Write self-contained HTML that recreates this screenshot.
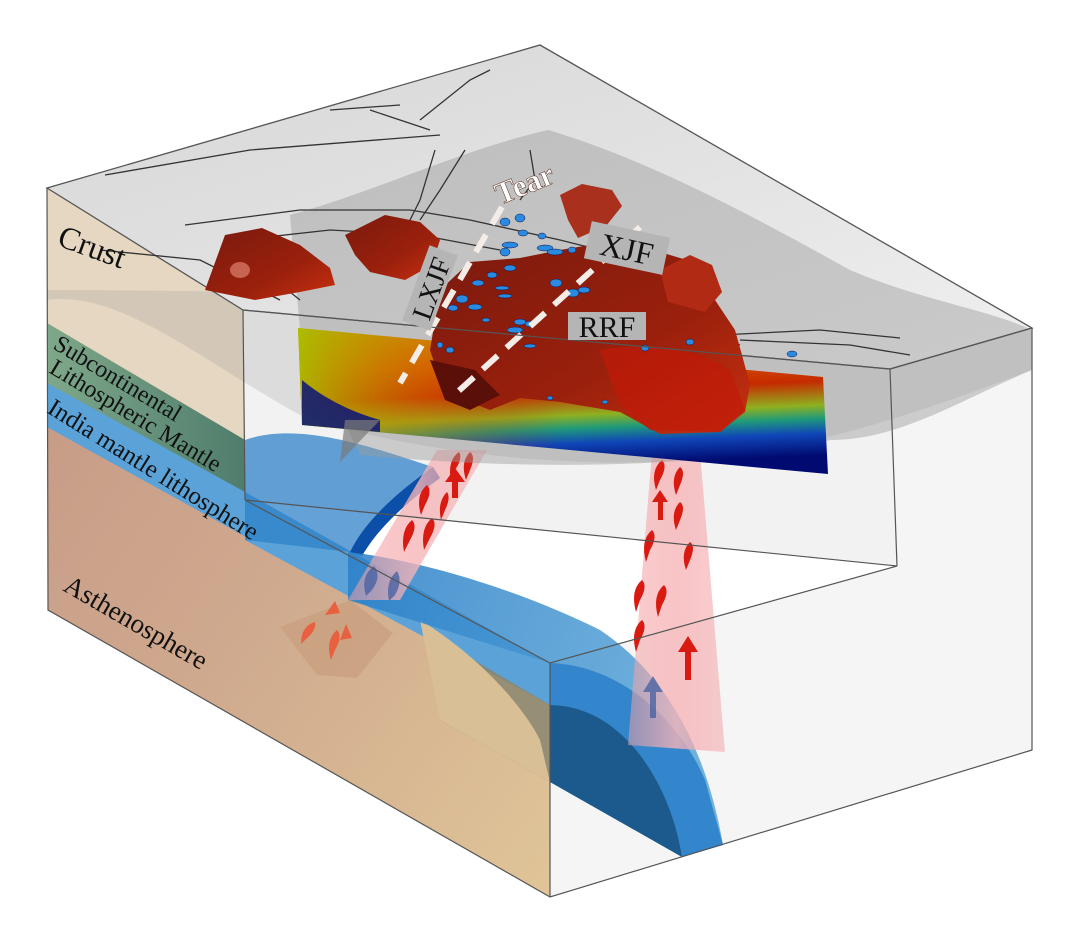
<!DOCTYPE html>
<html><head><meta charset="utf-8"><style>
html,body{margin:0;padding:0;background:#fff;}
svg{display:block;}
text{font-family:"Liberation Serif",serif;fill:#111;}
</style></head><body>
<svg width="1080" height="944" viewBox="0 0 1080 944" xmlns="http://www.w3.org/2000/svg">
<defs>
<linearGradient id="top" x1="0" y1="0" x2="1" y2="1">
<stop offset="0" stop-color="#d6d6d6"/><stop offset="0.5" stop-color="#e2e2e2"/><stop offset="1" stop-color="#f0f0f0"/>
</linearGradient>
<linearGradient id="asth" x1="0" y1="0" x2="1" y2="1">
<stop offset="0" stop-color="#c49684"/><stop offset="0.5" stop-color="#cfa98e"/><stop offset="1" stop-color="#e0c598"/>
</linearGradient>
<linearGradient id="green" x1="0" y1="0" x2="1" y2="0">
<stop offset="0" stop-color="#7fa88a"/><stop offset="1" stop-color="#4f7d6c"/>
</linearGradient>
<linearGradient id="sec" x1="0" y1="0" x2="0.15" y2="1">
<stop offset="0" stop-color="#c9a000"/><stop offset="0.3" stop-color="#d85a00"/><stop offset="0.5" stop-color="#c52a00"/><stop offset="0.66" stop-color="#8fb020"/><stop offset="0.75" stop-color="#1f9a7a"/><stop offset="0.85" stop-color="#1046b8"/><stop offset="1" stop-color="#000a70"/>
</linearGradient>
<linearGradient id="secl" x1="0" y1="0" x2="1" y2="0">
<stop offset="0" stop-color="#a8c000" stop-opacity="0.9"/><stop offset="0.25" stop-color="#d07000" stop-opacity="0.4"/><stop offset="0.5" stop-color="#c00" stop-opacity="0"/>
</linearGradient>
<linearGradient id="blob" x1="0" y1="0" x2="1" y2="1">
<stop offset="0" stop-color="#7a1a0e"/><stop offset="0.6" stop-color="#9a200c"/><stop offset="1" stop-color="#c83010"/>
</linearGradient>
<linearGradient id="plume" x1="0" y1="0" x2="1" y2="0">
<stop offset="0" stop-color="#f4a0a4" stop-opacity="0.5"/><stop offset="0.5" stop-color="#f7b5b8" stop-opacity="0.8"/><stop offset="1" stop-color="#f4a0a4" stop-opacity="0.5"/>
</linearGradient>
<linearGradient id="slab" x1="0" y1="0" x2="1" y2="0.3">
<stop offset="0" stop-color="#2a7fc8"/><stop offset="1" stop-color="#5aa6d8"/>
</linearGradient>
</defs>

<polygon points="550,663 897,566 890,369 1032,328 1032,750 550,897" fill="#f5f5f5"/>
<polygon points="243,310 890,369 897,566 245,500" fill="#ececec" opacity="0.7"/>

<polygon points="47,188 243,310 245,500 550,663 550,897 48,610" fill="url(#asth)"/>
<polygon points="47,188 243,310 245,440 47,323" fill="#e6d7c2"/>
<polygon points="47,323 245,440 245,500 47,383" fill="url(#green)"/>
<polygon points="47,383 245,492 550,663 550,705 47,427" fill="#5aa2d8"/>
<polygon points="245,500 550,663 550,705 245,540" fill="#5aa2d8"/>
<polygon points="440,640 550,705 550,782 440,720" fill="#8a8670" opacity="0.85"/>
<path d="M420,620 C470,650 520,700 540,740 L550,782 L440,720 Z" fill="#d8bf95"/>

<path d="M47,300 C120,290 200,360 300,415 C400,450 560,470 700,460 C820,445 900,420 1032,370 L1032,330 C900,340 700,300 540,290 C400,300 300,290 47,290 Z" fill="#9a9a9a" opacity="0.25"/>

<path d="M245,440 C300,420 380,450 433,467 C400,490 365,520 350,552 L245,540 Z" fill="#2f82c8" opacity="0.75"/>
<path d="M433,467 C400,490 365,520 350,552 L362,556 C380,525 410,500 440,478 Z" fill="#0b4fa8"/>
<path d="M348,552 C420,560 520,590 600,630 C660,670 705,740 723,845 L682,857 L550,782 L550,663 L348,600 Z" fill="url(#slab)" opacity="0.85"/>
<path d="M550,663 C620,665 680,720 705,780 L723,845 L682,857 C670,780 620,705 550,705 Z" fill="#3386cc"/>
<path d="M550,705 C620,705 670,780 682,857 L550,782 Z" fill="#1c5a8e"/>

<polygon points="280,627 317,675 357,678 393,633 350,600" fill="#c9a080" opacity="0.8"/>

<polygon points="437,450 487,450 400,600 348,600" fill="url(#plume)"/>
<polygon points="652,452 700,452 725,752 628,745" fill="url(#plume)"/>
<g fill="#d81a10">
<path d="M455,470 q8,-12 4,-18 q-12,8 -8,30 z"/><path d="M470,470 q6,-14 0,-18 q-10,10 -4,28 z"/>
<path d="M425,505 q8,-14 2,-20 q-12,10 -6,30 z"/><path d="M445,510 q6,-12 2,-18 q-10,10 -6,28 z"/>
<path d="M410,540 q8,-14 2,-20 q-12,10 -8,32 z"/><path d="M430,538 q8,-14 2,-20 q-12,10 -8,32 z"/>
<path d="M660,480 q8,-14 2,-20 q-12,10 -6,30 z"/><path d="M680,485 q6,-14 0,-18 q-10,10 -4,28 z"/>
<path d="M680,520 q6,-14 0,-18 q-10,10 -4,28 z"/><path d="M650,550 q8,-14 2,-20 q-12,10 -6,32 z"/>
<path d="M690,560 q6,-14 0,-18 q-10,10 -4,28 z"/><path d="M640,600 q8,-14 2,-20 q-12,10 -6,32 z"/>
<path d="M662,605 q8,-14 2,-20 q-12,10 -6,32 z"/><path d="M640,640 q8,-14 2,-20 q-12,10 -6,32 z"/>
<path d="M452,480 l6,0 0,18 -6,0z M445,482 l10,-14 10,14z"/>
<path d="M685,650 l6,0 0,30 -6,0z M678,652 l10,-16 10,16z"/>
<path d="M658,500 l5,0 0,20 -5,0z M652,502 l8,-12 8,12z"/>
</g>
<g fill="#e86040">
<path d="M305,640 q12,-10 10,-18 q-14,4 -14,22 z"/><path d="M335,650 q8,-14 2,-20 q-12,10 -6,30 z"/>
<path d="M325,615 l10,-14 5,12z"/><path d="M340,640 l6,-16 6,14z"/>
</g>
<g fill="#3a5aa0" opacity="0.7">
<path d="M372,590 q10,-14 2,-24 q-14,10 -8,30 z"/><path d="M395,595 q8,-14 2,-24 q-12,10 -8,30 z"/>
<path d="M650,690 l6,0 0,28 -6,0z M643,692 l10,-16 10,16z"/>
</g>

<polygon points="47,188 540,45 1032,328 890,369 243,310" fill="url(#top)"/>
<path d="M290,215 C380,190 460,150 548,130 C650,160 760,220 850,270 C920,300 990,310 1032,330 L1032,370 C960,400 900,440 830,440 C700,470 520,470 360,455 L300,330 Z" fill="#9c9c9c" opacity="0.45"/>
<polygon points="47,188 540,45 1032,328 890,369 243,310" fill="none" stroke="#555" stroke-width="1.3"/>

<g fill="none" stroke="#333" stroke-width="1.3">
<path d="M105,175 L250,150 L440,135"/><path d="M330,110 L400,105 M370,110 L430,130"/><path d="M420,120 L470,80 L490,70"/>
<path d="M185,225 L300,210 L410,210 L470,220 L560,240 L620,255"/><path d="M240,240 L330,230 L420,235 L500,250"/>
<path d="M435,150 L420,200 L405,230"/><path d="M465,150 L440,190 L420,220"/><path d="M530,150 L535,180 L520,200"/>
<path d="M520,260 C560,280 620,300 680,320 L740,345"/><path d="M560,270 C600,290 660,300 720,330"/>
<path d="M640,270 L690,300 L720,340"/><path d="M660,280 L700,320 L730,355"/>
<path d="M740,340 L850,345 L910,355"/><path d="M720,335 L820,330 L900,338"/>
<path d="M100,250 L200,260 L280,300"/><path d="M250,260 L300,300"/>
</g>

<polygon points="298,328 823,377 828,474 302,425" fill="url(#sec)"/>
<polygon points="298,328 823,377 828,474 302,425" fill="url(#secl)"/>
<path d="M302,425 L302,380 C320,395 345,410 380,420 L380,432 Z" fill="#000a80" opacity="0.8"/>
<path d="M345,420 L380,420 L340,462 Z" fill="#7a7a7a" opacity="0.7"/>

<path d="M440,290 L470,262 L520,258 L560,250 L620,240 L680,258 L705,265 L715,300 L735,330 L742,355 L750,385 L745,412 L720,432 L660,434 L620,412 L560,402 L520,398 L490,410 L460,398 L440,380 L430,350 Z" fill="url(#blob)"/>
<path d="M430,360 L475,370 L500,395 L470,410 L445,400 Z" fill="#5a1008"/>
<path d="M600,350 C650,340 700,350 730,370 L745,410 L720,432 L650,430 L620,405 Z" fill="#c01a08" opacity="0.7"/>
<path d="M205,290 L225,235 L262,228 L300,245 L330,268 L335,285 L300,292 L255,300 L230,295 Z" fill="url(#blob)"/>
<ellipse cx="240" cy="270" rx="10" ry="8" fill="#e08070" opacity="0.7"/>
<path d="M345,235 L385,215 L420,222 L440,240 L432,265 L405,280 L370,272 L355,255 Z" fill="url(#blob)"/>
<path d="M560,195 L582,184 L612,190 L622,206 L606,226 L578,238 L568,220 Z" fill="#a8301c"/>
<path d="M660,270 L690,255 L712,265 L722,292 L705,312 L668,302 Z" fill="#b02a14"/>

<g fill="#2a8ae0" stroke="#114" stroke-width="0.5">
<ellipse cx="505" cy="222" rx="5" ry="4"/><ellipse cx="520" cy="218" rx="5" ry="4"/><ellipse cx="523" cy="233" rx="5" ry="3"/>
<ellipse cx="542" cy="236" rx="4" ry="3"/><ellipse cx="510" cy="245" rx="8" ry="3"/><ellipse cx="505" cy="252" rx="5" ry="4"/>
<ellipse cx="545" cy="248" rx="8" ry="3"/><ellipse cx="555" cy="252" rx="8" ry="3"/><ellipse cx="572" cy="250" rx="4" ry="3"/>
<ellipse cx="510" cy="268" rx="6" ry="3"/><ellipse cx="492" cy="275" rx="5" ry="3"/><ellipse cx="478" cy="283" rx="6" ry="3"/>
<ellipse cx="502" cy="288" rx="7" ry="2"/><ellipse cx="505" cy="296" rx="7" ry="2"/><ellipse cx="462" cy="299" rx="6" ry="4"/>
<ellipse cx="475" cy="307" rx="7" ry="3"/><ellipse cx="453" cy="308" rx="5" ry="3"/><ellipse cx="520" cy="322" rx="6" ry="3"/>
<ellipse cx="515" cy="330" rx="8" ry="3"/><ellipse cx="530" cy="324" rx="5" ry="3"/><ellipse cx="556" cy="283" rx="6" ry="4"/>
<ellipse cx="573" cy="293" rx="6" ry="4"/><ellipse cx="584" cy="290" rx="6" ry="3"/><ellipse cx="530" cy="346" rx="6" ry="2"/>
<ellipse cx="450" cy="350" rx="4" ry="3"/><ellipse cx="440" cy="345" rx="3" ry="3"/><ellipse cx="486" cy="320" rx="4" ry="2"/>
<ellipse cx="645" cy="348" rx="4" ry="3"/><ellipse cx="690" cy="342" rx="4" ry="3"/><ellipse cx="792" cy="354" rx="5" ry="3"/>
<ellipse cx="550" cy="398" rx="3" ry="2"/><ellipse cx="605" cy="402" rx="3" ry="2"/>
</g>

<g stroke="#f4ece6" stroke-width="6" stroke-dasharray="20 12">
<line x1="502" y1="207" x2="400" y2="383"/>
<line x1="640" y1="227" x2="452" y2="397"/>
</g>

<g fill="none" stroke="#555" stroke-width="1.2">
<polyline points="47,188 48,610 550,897 1032,750 1032,328"/>
<polyline points="243,310 890,369 1032,328"/>
<line x1="243" y1="310" x2="245" y2="500"/>
<line x1="890" y1="369" x2="897" y2="566"/>
<polyline points="245,500 550,663 897,566 245,500"/>
<line x1="550" y1="663" x2="550" y2="897"/>
</g>

<text transform="translate(56,245) rotate(20)" font-size="32">Crust</text>
<text transform="translate(52,348) rotate(31)" font-size="24">Subcontinental</text>
<text transform="translate(48,372) rotate(31)" font-size="24">Lithospheric Mantle</text>
<text transform="translate(46,412) rotate(32)" font-size="25">India mantle lithosphere</text>
<text transform="translate(62,590) rotate(30)" font-size="27">Asthenosphere</text>

<text transform="translate(500,205) rotate(-22)" font-size="31" font-weight="bold" style="fill:#fff;stroke:#5a2a1a;stroke-width:0.5">Tear</text>
<g transform="translate(627,248) rotate(12)">
<rect x="-40" y="-19" width="80" height="38" fill="#b5b5b5"/>
<text x="0" y="12" font-size="32" text-anchor="middle">XJF</text>
</g>
<g transform="translate(607,326)">
<rect x="-39" y="-14" width="78" height="28" fill="#b5b5b5"/>
<text x="0" y="11" font-size="30" text-anchor="middle">RRF</text>
</g>
<g transform="translate(430,288) rotate(-70)">
<rect x="-40" y="-15" width="80" height="30" fill="#b5b5b5"/>
<text x="0" y="11" font-size="28" text-anchor="middle">LXJF</text>
</g>
</svg>
</body></html>
